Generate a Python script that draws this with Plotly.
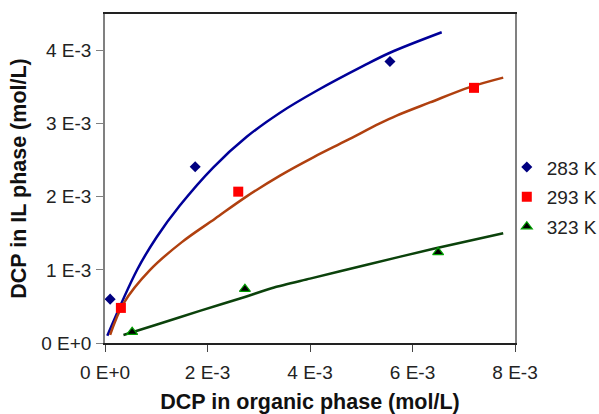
import plotly.graph_objects as go

# Measured data (mol/L)
x283 = [0.10e-3, 1.76e-3, 5.56e-3]
y283 = [0.60e-3, 2.41e-3, 3.85e-3]
x293 = [0.31e-3, 2.60e-3, 7.20e-3]
y293 = [0.48e-3, 2.07e-3, 3.49e-3]
x323 = [0.53e-3, 2.73e-3, 6.50e-3]
y323 = [0.15e-3, 0.74e-3, 1.24e-3]

# Fitted curves
fx283 = [0.045e-3, 0.63e-3, 1.01e-3, 1.46e-3, 2.11e-3, 2.765e-3, 3.415e-3, 4.13e-3, 5.04e-3, 5.56e-3, 6.57e-3]
fy283 = [0.10e-3, 1.005e-3, 1.45e-3, 1.88e-3, 2.40e-3, 2.82e-3, 3.15e-3, 3.45e-3, 3.79e-3, 3.97e-3, 4.25e-3]
fx293 = [0.10e-3, 0.36e-3, 0.88e-3, 1.50e-3, 2.146e-3, 2.765e-3, 3.415e-3, 4.065e-3, 4.716e-3, 5.352e-3, 5.69e-3, 6.34e-3, 7.12e-3, 7.77e-3]
fy293 = [0.11e-3, 0.54e-3, 1.00e-3, 1.38e-3, 1.70e-3, 2.005e-3, 2.29e-3, 2.54e-3, 2.77e-3, 3.00e-3, 3.11e-3, 3.29e-3, 3.50e-3, 3.63e-3]
fx323 = [0.36e-3, 1.00e-3, 1.85e-3, 2.73e-3, 3.30e-3, 4.00e-3, 5.11e-3, 6.41e-3, 7.77e-3]
fy323 = [0.11e-3, 0.25e-3, 0.44e-3, 0.63e-3, 0.76e-3, 0.88e-3, 1.07e-3, 1.29e-3, 1.50e-3]

xticks = [0, 2e-3, 4e-3, 6e-3, 8e-3]
xticktext = ["0 E+0", "2 E-3", "4 E-3", "6 E-3", "8 E-3"]
yticks = [0, 1e-3, 2e-3, 3e-3, 4e-3]
yticktext = ["0 E+0", "1 E-3", "2 E-3", "3 E-3", "4 E-3"]

FONT = "Liberation Sans, Arial, sans-serif"
TICK = 19
TITLE = 21.5

fig = go.Figure()
fig.add_trace(go.Scatter(x=fx283, y=fy283, mode="lines", line=dict(color="#000099", width=2.5, shape="spline", smoothing=1.0), showlegend=False, hoverinfo="skip"))
fig.add_trace(go.Scatter(x=fx293, y=fy293, mode="lines", line=dict(color="#B0400F", width=2.5, shape="spline", smoothing=1.0), showlegend=False, hoverinfo="skip"))
fig.add_trace(go.Scatter(x=fx323, y=fy323, mode="lines", line=dict(color="#0B420B", width=2.5, shape="spline", smoothing=0.6), showlegend=False, hoverinfo="skip"))

fig.add_trace(go.Scatter(x=x283, y=y283, mode="markers", name="283 K", legendgroup="a",
                         marker=dict(symbol="diamond", size=8.5, color="#000080")))
fig.add_trace(go.Scatter(x=x293, y=y293, mode="markers", name="293 K", legendgroup="b",
                         marker=dict(symbol="square", size=10, color="#FF0000")))
fig.add_trace(go.Scatter(x=x323, y=y323, mode="markers", name="323 K", legendgroup="c",
                         marker=dict(symbol="triangle-up", size=9.5, color="#000000",
                                     line=dict(color="#00A000", width=1.2))))

fig.update_layout(
    width=599, height=414,
    margin=dict(l=105, r=84, t=14, b=71, autoexpand=False),
    paper_bgcolor="white", plot_bgcolor="white",
    font=dict(family=FONT, size=TICK, color="#222"),
    legend=dict(x=0.98, xanchor="left", y=0.592, yanchor="top",
                font=dict(size=TICK, family=FONT, color="#222"),
                tracegroupgap=2, bgcolor="rgba(0,0,0,0)", itemwidth=30),
    xaxis=dict(range=[0, 8e-3], tickvals=xticks, ticktext=xticktext, automargin=False,
               showgrid=False, zeroline=False, showline=True, linecolor="#222",
               linewidth=1.5, mirror=True, ticks="outside", ticklen=7, tickcolor="#444",
               tickfont=dict(size=TICK, family=FONT, color="#222"), ticklabelstandoff=4,
               title=dict(text="<b>DCP in organic phase (mol/L)</b>", font=dict(size=TITLE, family=FONT, color="#111"), standoff=17)),
    yaxis=dict(range=[0, 4.5e-3], tickvals=yticks, ticktext=yticktext, automargin=False,
               showgrid=False, zeroline=False, showline=True, linecolor="#808080",
               linewidth=1.5, mirror=True, ticks="outside", ticklen=7, tickcolor="#808080",
               tickfont=dict(size=TICK, family=FONT, color="#222"), ticklabelstandoff=1,
               title=dict(text="<b>DCP in IL phase (mol/L)</b>", font=dict(size=TITLE, family=FONT, color="#111"), standoff=9)),
)

fig.write_html("out.html", config={"displayModeBar": False},
               post_script="document.body.style.margin='0';document.body.style.overflow='hidden';")
